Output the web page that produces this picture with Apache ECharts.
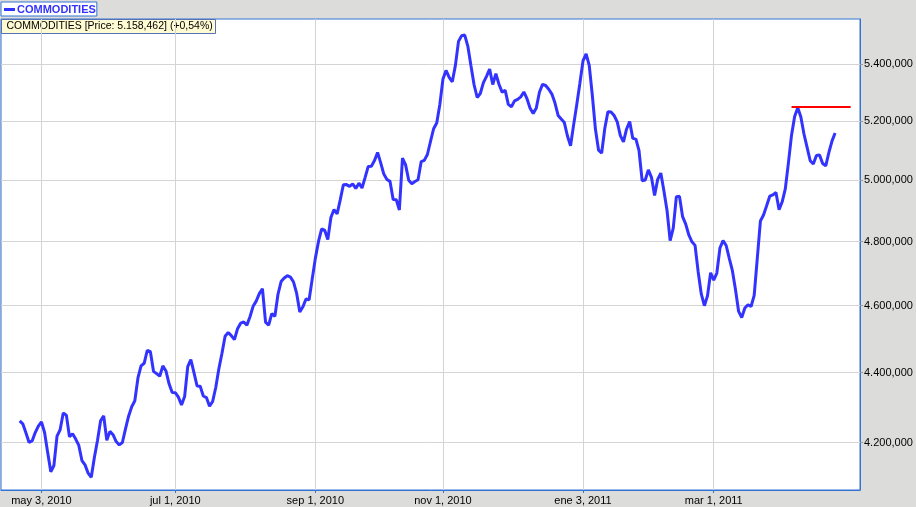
<!DOCTYPE html>
<html>
<head>
<meta charset="utf-8">
<script src="https://cdn.jsdelivr.net/npm/echarts@6/dist/echarts.min.js"></script>
<style>
html,body{margin:0;padding:0;background:#dcdddb;}
#chart{width:916px;height:507px;}
</style>
</head>
<body>
<div id="chart"></div>
<script>
// ---- data ----
const seriesName = 'COMMODITIES';
const dayCount = 277;            // trading-day slots on the x axis
const priceStart = 6;            // slot of first price
const prices = [
4261.0,4252.7,4227.8,4200.9,4204.6,4228.1,4246.1,4258.4,4228.4,4172.3,
4119.6,4136.7,4218.3,4236.1,4283.4,4277.4,4216.6,4224.6,4210.0,4192.2,
4150.4,4138.4,4115.7,4104.5,4158.6,4206.0,4261.6,4275.1,4206.3,4231.5,
4222.1,4202.9,4193.6,4200.3,4238.4,4274.5,4301.1,4318.3,4384.2,4419.8,
4427.2,4465.7,4461.3,4403.6,4396.8,4389.4,4419.5,4404.7,4367.1,4341.8,
4341.6,4328.7,4306.3,4330.4,4417.2,4437.9,4400.0,4361.0,4360.2,4332.1,
4327.5,4302.9,4316.3,4356.7,4411.2,4456.8,4507.4,4518.7,4509.2,4497.1,
4529.9,4546.5,4550.3,4540.8,4566.0,4597.7,4613.7,4636.7,4651.9,4550.0,
4540.8,4575.5,4567.5,4634.8,4674.0,4684.9,4692.1,4687.7,4672.5,4637.3,
4580.2,4596.2,4620.2,4618.0,4682.4,4746.5,4799.4,4839.9,4836.2,4806.6,
4876.8,4902.8,4888.6,4934.4,4984.5,4984.8,4978.9,4986.8,4972.0,4989.5,
4973.6,5008.8,5045.2,5046.2,5064.8,5092.4,5057.3,5019.6,5002.0,4995.4,
4935.7,4934.8,4901.5,5073.2,5050.3,4999.0,4987.8,4995.1,5000.7,5061.1,
5065.4,5085.3,5129.5,5173.0,5192.6,5256.8,5346.4,5377.1,5352.4,5336.8,
5395.4,5482.0,5502.7,5504.9,5464.1,5393.6,5326.3,5281.5,5295.6,5334.0,
5355.9,5382.0,5327.0,5365.4,5328.0,5300.5,5306.5,5257.5,5249.4,5269.8,
5275.1,5283.6,5300.9,5277.2,5243.7,5225.7,5245.1,5299.8,5328.0,5323.8,
5310.4,5293.5,5262.1,5219.0,5206.3,5194.3,5148.1,5115.0,5187.2,5257.1,
5331.6,5411.5,5436.5,5395.0,5288.5,5171.0,5099.8,5090.4,5173.7,5232.1,
5230.7,5218.7,5196.6,5149.4,5128.2,5172.3,5197.6,5140.0,5137.6,5098.1,
4997.7,5000.0,5033.7,5008.8,4948.6,5002.0,5022.9,4963.8,4899.8,4802.6,
4842.8,4945.0,4946.0,4879.7,4855.7,4820.8,4799.1,4787.6,4704.8,4635.8,
4599.7,4629.9,4701.4,4678.7,4700.5,4779.4,4802.6,4787.2,4746.8,4707.9,
4648.9,4582.2,4563.3,4592.9,4602.8,4597.3,4631.4,4746.8,4865.6,4885.3,
4915.0,4946.6,4950.9,4958.8,4902.1,4928.2,4970.7,5057.0,5151.1,5215.5,
5246.0,5213.4,5155.1,5109.3,5064.4,5053.3,5082.3,5083.6,5055.0,5047.2,
5092.1,5130.8,5158.462
];
const refLevel = 5248.3;         // red reference level
const refFrom = 254, refTo = 273;
const xTickIndex  = [13, 56, 101, 142, 187, 229];
const xTickLabels = ['may 3, 2010', 'jul 1, 2010', 'sep 1, 2010', 'nov 1, 2010', 'ene 3, 2011', 'mar 1, 2011'];
const yTicks = [4200, 4400, 4600, 4800, 5000, 5200, 5400];
const yMin = 4070, yMax = 5564;

// ---- helpers ----
function fmtNum(v, d) {
  const s = v.toFixed(d);
  const parts = s.split('.');
  const ip = parts[0].replace(/\B(?=(\d{3})+(?!\d))/g, '.');
  return parts[1] ? ip + ',' + parts[1] : ip;
}
const categories = [];
for (let i = 0; i < dayCount; i++) {
  const k = xTickIndex.indexOf(i);
  categories.push(k >= 0 ? xTickLabels[k] : String(i));
}
const lineData = categories.map((c, i) => {
  const j = i - priceStart;
  return (j >= 0 && j < prices.length) ? prices[j] : null;
});
const refData = categories.map((c, i) => (i >= refFrom && i <= refTo) ? refLevel : null);
const last = prices[prices.length - 1], prev = prices[prices.length - 2];
const pct = (last / prev - 1) * 100;
const infoText = seriesName + ' [Price: ' + fmtNum(last, 3) + '] (' + (pct >= 0 ? '+' : '') + fmtNum(pct, 2) + '%)';
const isTick = (idx) => xTickIndex.indexOf(idx) >= 0;

const FONT = '"Liberation Sans", Arial, sans-serif';
const BORDER = '#3372d4';

const chart = echarts.init(document.getElementById('chart'), null, {renderer: 'canvas'});
chart.setOption({
  animation: false,
  backgroundColor: '#dcdddb',
  textStyle: {fontFamily: FONT},
  grid: {
    left: 1, right: 56, top: 19, bottom: 17,
    show: true, backgroundColor: '#ffffff', borderColor: BORDER, borderWidth: 1
  },
  legend: {
    data: [seriesName],
    left: 1, top: 2,
    padding: [2, 1, 1, 3],
    backgroundColor: '#ffffff',
    borderColor: BORDER, borderWidth: 1,
    icon: 'rect', itemWidth: 11, itemHeight: 3, itemGap: 4,
    textStyle: {color: '#3333ff', fontWeight: 'bold', fontSize: 11, fontFamily: FONT, padding: [0, 0, 0, -3]}
  },
  xAxis: {
    type: 'category',
    data: categories,
    boundaryGap: false,
    axisLine: {show: true, lineStyle: {color: BORDER, width: 1}},
    axisTick: {show: true, interval: isTick, length: 3, lineStyle: {color: BORDER}},
    axisLabel: {
      interval: isTick, margin: 5, color: '#000', fontSize: 11, fontFamily: FONT, hideOverlap: false
    },
    splitLine: {show: true, interval: isTick, lineStyle: {color: '#d4d4d4', width: 1}}
  },
  yAxis: {
    type: 'log',
    logBase: 10,
    position: 'right',
    min: yMin, max: yMax,
    axisLine: {show: true, lineStyle: {color: BORDER, width: 1}},
    axisTick: {show: true, length: 3, customValues: yTicks, lineStyle: {color: '#999'}},
    axisLabel: {customValues: yTicks, margin: 4, color: '#000', fontSize: 11, fontFamily: FONT,
      formatter: (v) => fmtNum(Number(v), 3)},
    splitLine: {show: true, lineStyle: {color: '#d4d4d4', width: 1}},
    minorTick: {show: false}, minorSplitLine: {show: false}
  },
  series: [
    {
      name: seriesName, type: 'line', data: lineData, symbol: 'none',
      lineStyle: {color: '#3333ff', width: 3}, itemStyle: {color: '#3333ff'},
      connectNulls: false, z: 3
    },
    {
      name: 'ref', type: 'line', data: refData, symbol: 'none',
      lineStyle: {color: '#ff0000', width: 2}, itemStyle: {color: '#ff0000'}, z: 4
    }
  ],
  graphic: [
    {
      type: 'group', left: 1, top: 19, z: 100,
      children: [
        {type: 'rect', shape: {x: 0, y: 0, width: 214, height: 14},
         style: {fill: '#fffbd2', stroke: '#5572b8', lineWidth: 1}},
        {type: 'text', x: 5, y: 7,
         style: {text: infoText, fill: '#000', font: '10.5px ' + FONT, verticalAlign: 'middle'}}
      ]
    }
  ]
});
</script>
</body>
</html>
